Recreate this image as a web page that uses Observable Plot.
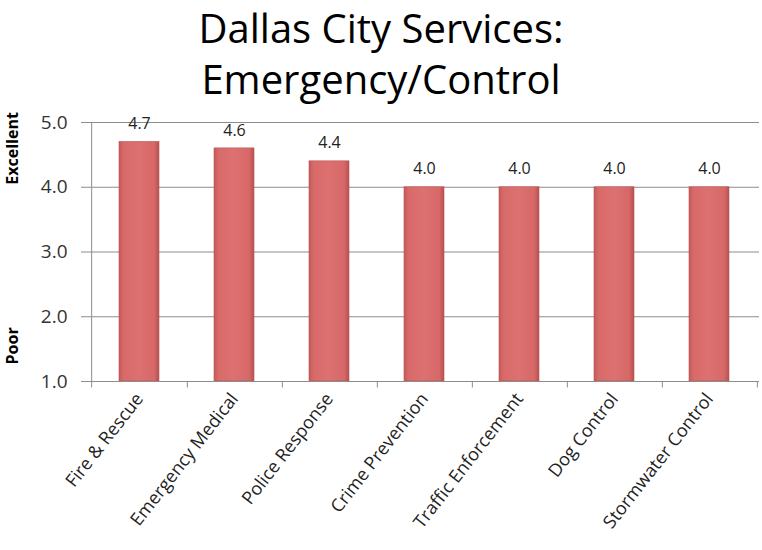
<!DOCTYPE html>
<html>
<head>
<meta charset="utf-8">
<script src="https://cdn.jsdelivr.net/npm/d3@7"></script>
<script src="https://cdn.jsdelivr.net/npm/@observablehq/plot@0.6"></script>
<style>
  html, body { margin: 0; padding: 0; background: #fff; }
  #wrap { width: 762px; height: 550px; position: relative; overflow: hidden; }
  .tline { position: absolute; left: 0; width: 762px; font-family: "Open Sans", sans-serif; font-size: 40px; line-height: 55px; text-align: center; color: #000; white-space: nowrap; }
  #t1 { top: 0px; }
  #t2 { top: 51px; }
  #chart { position: absolute; left: 0; top: 107px; }
</style>
</head>
<body>
<div id="wrap">
  <div class="tline" id="t1">Dallas City Services:</div>
  <div class="tline" id="t2">Emergency/Control</div>
  <div id="chart"></div>
</div>
<script>
const categories = ["Fire & Rescue", "Emergency Medical", "Police Response", "Crime Prevention", "Traffic Enforcement", "Dog Control", "Stormwater Control"];
const values = [4.7, 4.6, 4.4, 4.0, 4.0, 4.0, 4.0];
const yTicks = [1, 2, 3, 4, 5];
const sideLabels = ["Excellent", "Poor"];
const sideLabelValues = [4.6, 1.55];

const data = categories.map((c, i) => ({category: c, value: values[i]}));
const sides = sideLabels.map((l, i) => ({label: l, y: sideLabelValues[i]}));

const width = 762, height = 443;
const marginLeft = 89, marginRight = 3;
const step = (width - marginLeft - marginRight) / categories.length;

const plot = Plot.plot({
  width, height,
  marginTop: 15, marginBottom: 169, marginLeft, marginRight,
  style: {fontFamily: "Open Sans, sans-serif", background: "#fff", overflow: "visible"},
  x: {domain: categories, paddingInner: 0.58, paddingOuter: 0.29, label: null},
  y: {domain: [1, 5], ticks: yTicks, label: null},
  marks: [
    () => {
      const svg = d3.create("svg:defs");
      const g = svg.append("linearGradient").attr("id", "barGrad").attr("x1", 0).attr("x2", 1).attr("y1", 0).attr("y2", 0);
      g.append("stop").attr("offset", "0%").attr("stop-color", "#c45a5a");
      g.append("stop").attr("offset", "12%").attr("stop-color", "#d96a6a");
      g.append("stop").attr("offset", "50%").attr("stop-color", "#dd7070");
      g.append("stop").attr("offset", "88%").attr("stop-color", "#d66868");
      g.append("stop").attr("offset", "100%").attr("stop-color", "#b85050");
      return svg.node();
    },
    Plot.gridY(yTicks, {stroke: "#8c8c8c", strokeOpacity: 1, strokeWidth: 1}),
    Plot.barY(data, {x: "category", y1: 1, y2: "value", fill: "url(#barGrad)", stroke: "#b85555", strokeWidth: 0.6}),
    Plot.barY(data, {x: "category", y1: d => d.value - 0.03, y2: "value", fill: "#f09898", inset: 1}),
    Plot.ruleY([1], {stroke: "#8c8c8c"}),
    Plot.ruleX([categories[0]], {x: d => d, dx: -step / 2, y1: 0.9, y2: 5, stroke: "#8c8c8c"}),
    Plot.ruleX(categories, {x: d => d, dx: step / 2, y1: 1, y2: 0.9, stroke: "#8c8c8c"}),
    Plot.axisY(yTicks, {tickFormat: d => d.toFixed(1), tickSize: 8, stroke: "#8c8c8c", fontSize: 19, fill: "#333", tickPadding: 14}),
    Plot.axisX({tickRotate: -52, tickSize: 0, tickPadding: 14, fontSize: 18, fill: "#222"}),
    Plot.text(data, {x: "category", y: "value", text: d => d.value.toFixed(1), dy: -18, fontSize: 16, fill: "#222"}),
    Plot.text(sides, {text: "label", y: "y", frameAnchor: "left", dx: -77, rotate: -90, textAnchor: "middle", fontSize: 16, fontWeight: "bold", fill: "#000"})
  ]
});
document.getElementById("chart").appendChild(plot);
</script>
</body>
</html>
